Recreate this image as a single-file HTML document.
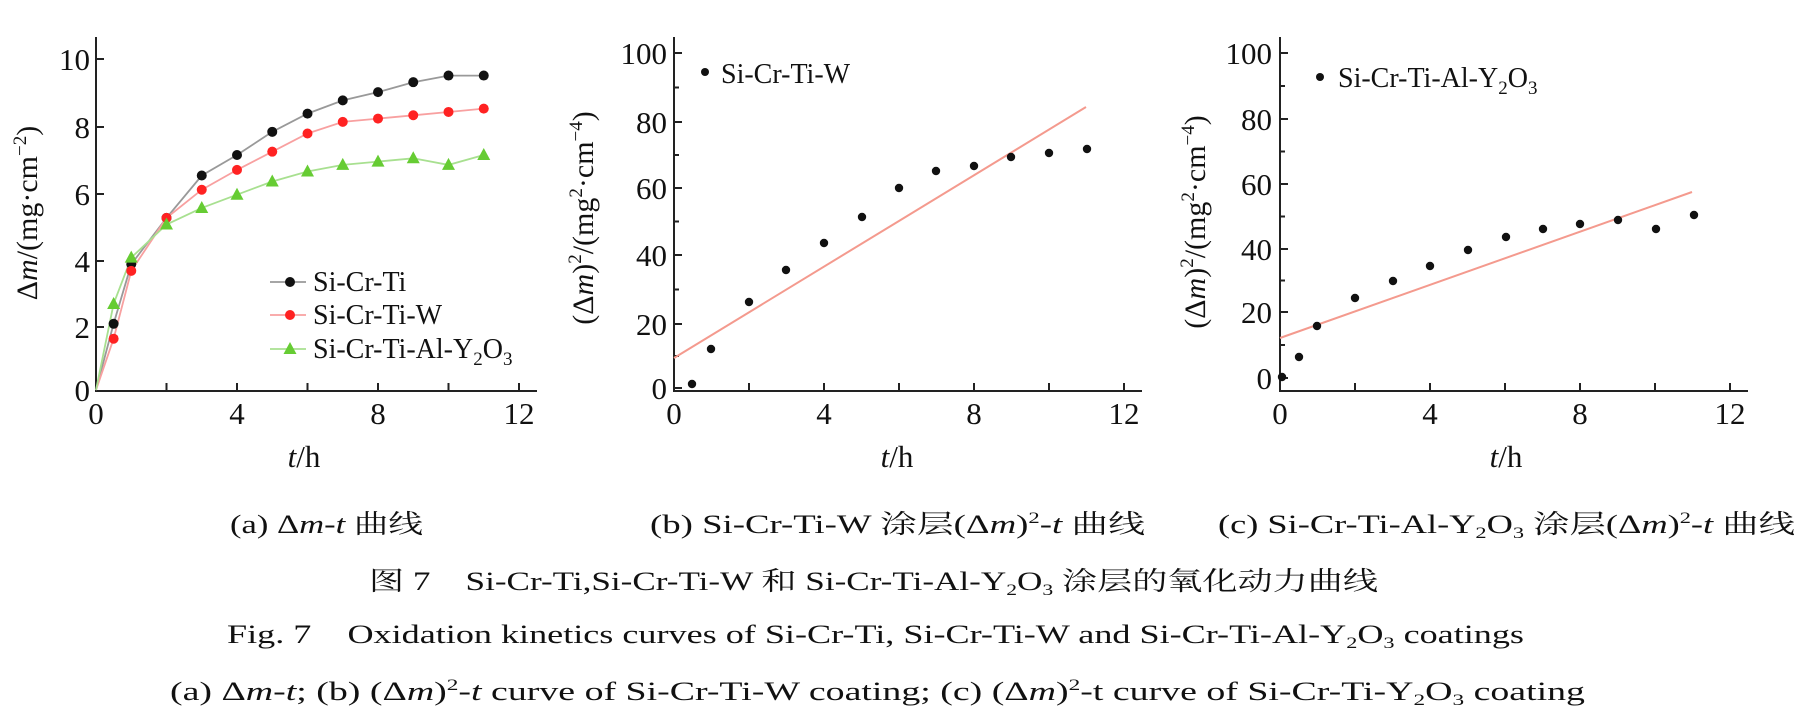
<!DOCTYPE html>
<html><head><meta charset="utf-8"><style>
html,body{margin:0;padding:0;background:#fff;}
svg{display:block;}
text{font-family:"Liberation Serif","Noto Serif CJK SC","Noto Sans CJK SC",serif;fill:#111;}
</style></head><body>
<svg id="s" width="1814" height="716" viewBox="0 0 1814 716" xmlns="http://www.w3.org/2000/svg">
<g id="g"></g>
<g font-size="31" text-anchor="end">
<text x="90" y="70">10</text><text x="90" y="138">8</text><text x="90" y="205">6</text><text x="90" y="272">4</text><text x="90" y="338">2</text><text x="90" y="401">0</text>
</g>
<g font-size="31" text-anchor="middle">
<text x="96" y="424">0</text><text x="237" y="424">4</text><text x="378" y="424">8</text><text x="519" y="424">12</text>
<text x="674" y="424">0</text><text x="824" y="424">4</text><text x="974" y="424">8</text><text x="1124" y="424">12</text>
<text x="1280" y="424">0</text><text x="1430" y="424">4</text><text x="1580" y="424">8</text><text x="1730" y="424">12</text>
</g>
<text x="304" y="467" font-size="31" text-anchor="middle"><tspan font-style="italic">t</tspan>/h</text>
<text x="897" y="467" font-size="31" text-anchor="middle"><tspan font-style="italic">t</tspan>/h</text>
<text x="1506" y="467" font-size="31" text-anchor="middle"><tspan font-style="italic">t</tspan>/h</text>
<text transform="translate(37,213) rotate(-90)" font-size="30" text-anchor="middle">Δ<tspan font-style="italic">m</tspan>/(mg·cm<tspan font-size="19" dy="-11">−2</tspan><tspan dy="11">)</tspan></text>
<text transform="translate(593,218) rotate(-90)" font-size="30" text-anchor="middle">(Δ<tspan font-style="italic">m</tspan>)<tspan font-size="19" dy="-12">2</tspan><tspan dy="12">/(mg</tspan><tspan font-size="19" dy="-11">2</tspan><tspan dy="11">·cm</tspan><tspan font-size="19" dy="-11">−4</tspan><tspan dy="11">)</tspan></text>
<text transform="translate(1205,222) rotate(-90)" font-size="30" text-anchor="middle">(Δ<tspan font-style="italic">m</tspan>)<tspan font-size="19" dy="-12">2</tspan><tspan dy="12">/(mg</tspan><tspan font-size="19" dy="-11">2</tspan><tspan dy="11">·cm</tspan><tspan font-size="19" dy="-11">−4</tspan><tspan dy="11">)</tspan></text>
<g font-size="31" text-anchor="end">
<text x="667" y="64">100</text><text x="667" y="133">80</text><text x="667" y="199">60</text><text x="667" y="266">40</text><text x="667" y="335">20</text><text x="667" y="399">0</text>
<text x="1272" y="64">100</text><text x="1272" y="130">80</text><text x="1272" y="195">60</text><text x="1272" y="260">40</text><text x="1272" y="323">20</text><text x="1272" y="389">0</text>
</g>
<g font-size="28">
<text x="313" y="291">Si-Cr-Ti</text>
<text x="313" y="324">Si-Cr-Ti-W</text>
<text x="313" y="358">Si-Cr-Ti-Al-Y<tspan font-size="19" dy="7">2</tspan><tspan dy="-7">O</tspan><tspan font-size="19" dy="7">3</tspan></text>
<text x="721" y="83">Si-Cr-Ti-W</text>
<text x="1338" y="87">Si-Cr-Ti-Al-Y<tspan font-size="19" dy="7">2</tspan><tspan dy="-7">O</tspan><tspan font-size="19" dy="7">3</tspan></text>
</g>
<g font-size="26">
<text x="230" y="533" textLength="193" lengthAdjust="spacingAndGlyphs">(a) Δ<tspan font-style="italic">m</tspan>-<tspan font-style="italic">t</tspan> 曲线</text>
<text x="650" y="533" textLength="495" lengthAdjust="spacingAndGlyphs">(b) Si-Cr-Ti-W 涂层(Δ<tspan font-style="italic">m</tspan>)<tspan font-size="16" dy="-10">2</tspan><tspan dy="10">-</tspan><tspan font-style="italic">t</tspan> 曲线</text>
<text x="1218" y="533" textLength="577" lengthAdjust="spacingAndGlyphs">(c) Si-Cr-Ti-Al-Y<tspan font-size="16" dy="5">2</tspan><tspan dy="-5">O</tspan><tspan font-size="16" dy="5">3</tspan><tspan dy="-5"> 涂层(Δ</tspan><tspan font-style="italic">m</tspan>)<tspan font-size="16" dy="-10">2</tspan><tspan dy="10">-</tspan><tspan font-style="italic">t</tspan> 曲线</text>
<text x="369" y="590" textLength="1009" lengthAdjust="spacingAndGlyphs">图 7　Si-Cr-Ti,Si-Cr-Ti-W 和 Si-Cr-Ti-Al-Y<tspan font-size="16" dy="5">2</tspan><tspan dy="-5">O</tspan><tspan font-size="16" dy="5">3</tspan><tspan dy="-5"> 涂层的氧化动力曲线</tspan></text>
<text x="227" y="643" textLength="1297" lengthAdjust="spacingAndGlyphs">Fig. 7　Oxidation kinetics curves of Si-Cr-Ti, Si-Cr-Ti-W and Si-Cr-Ti-Al-Y<tspan font-size="16" dy="5">2</tspan><tspan dy="-5">O</tspan><tspan font-size="16" dy="5">3</tspan><tspan dy="-5"> coatings</tspan></text>
<text x="170" y="700" textLength="1415" lengthAdjust="spacingAndGlyphs">(a) Δ<tspan font-style="italic">m</tspan>-<tspan font-style="italic">t</tspan>; (b) (Δ<tspan font-style="italic">m</tspan>)<tspan font-size="16" dy="-10">2</tspan><tspan dy="10">-</tspan><tspan font-style="italic">t</tspan> curve of Si-Cr-Ti-W coating; (c) (Δ<tspan font-style="italic">m</tspan>)<tspan font-size="16" dy="-10">2</tspan><tspan dy="10">-t curve of Si-Cr-Ti-Y</tspan><tspan font-size="16" dy="5">2</tspan><tspan dy="-5">O</tspan><tspan font-size="16" dy="5">3</tspan><tspan dy="-5"> coating</tspan></text>
</g>
</svg>
<script>
var g=document.getElementById('g'),h='';
function L(x1,y1,x2,y2,c,w){h+='<line x1="'+x1+'" y1="'+y1+'" x2="'+x2+'" y2="'+y2+'" stroke="'+(c||'#222')+'" stroke-width="'+(w||2)+'"/>';}
function axes(x0,xend,ytop,yticks,xs){
 L(x0,ytop,x0,391);L(x0-1,391,xend,391);
 yticks.forEach(function(t){L(x0,t[0],x0+(t[1]?8:5),t[0]);});
 xs.forEach(function(x){L(x,391,x,383);});
}
var ay=[];[59,127,194,261,327].forEach(function(y,i){ay.push([y,1]);});
axes(96,537,37,ay,[166.5,237,307.5,378,448.5,519]);
var by=[],bt=[53,122,188,255,324,388];bt.forEach(function(y,i){by.push([y,1]);if(i<5)by.push([(y+bt[i+1])/2,0]);});
axes(674,1142,37,by,[749,824,899,974,1049,1124]);
var cy=[],ct=[53,119,184,249,312,378];ct.forEach(function(y,i){cy.push([y,1]);if(i<5)cy.push([(y+ct[i+1])/2,0]);});
axes(1280,1748,37,cy,[1355,1430,1505,1580,1655,1730]);
function ax(t){return 96+t*35.25;} function ayv(v){return 390-v*33.1;}
var T=[0,0.5,1,2,3,4,5,6,7,8,9,10,11];
var S=[[0,2.0,3.8,5.2,6.48,7.1,7.8,8.35,8.75,9.0,9.3,9.5,9.5],[0,1.55,3.6,5.2,6.05,6.65,7.2,7.75,8.1,8.2,8.3,8.4,8.5],[0,2.6,4.0,5.0,5.5,5.9,6.3,6.6,6.8,6.9,7.0,6.8,7.1]];
var LC=['#999','#f8a0a0','#a8e090'],MC=['#111','#f22','#6c3'];
S.forEach(function(s,k){var p=T.map(function(t,i){return ax(t).toFixed(1)+','+ayv(s[i]).toFixed(1);}).join(' ');
 h+='<polyline points="'+p+'" fill="none" stroke="'+LC[k]+'" stroke-width="1.8"/>';});
S.forEach(function(s,k){T.forEach(function(t,i){if(i==0)return;var x=ax(t),y=ayv(s[i]);
 if(k==2)h+='<polygon points="'+x+','+(y-7)+' '+(x-6.5)+','+(y+5)+' '+(x+6.5)+','+(y+5)+'" fill="'+MC[k]+'"/>';
 else h+='<circle cx="'+x+'" cy="'+y+'" r="5" fill="'+MC[k]+'"/>';});});
L(270,282,306,282,LC[0],1.8);h+='<circle cx="290" cy="282" r="5" fill="#111"/>';
L(270,315,306,315,LC[1],1.8);h+='<circle cx="290" cy="315" r="5" fill="#f22"/>';
L(270,349,306,349,LC[2],1.8);h+='<polygon points="290,342 283.5,354 296.5,354" fill="#6c3"/>';
L(674,358,1086,107,'#f49a8e',2);
[[692,384],[711,349],[749,302],[786,270],[824,243],[862,217],[899,188],[936,171],[974,166],[1011,157],[1049,153],[1087,149]].forEach(function(p){h+='<circle cx="'+p[0]+'" cy="'+p[1]+'" r="4.2" fill="#111"/>';});
h+='<circle cx="705" cy="72" r="4" fill="#111"/>';
L(1280,338,1692,192,'#f49a8e',2);
[[1282,377],[1299,357],[1317,326],[1355,298],[1393,281],[1430,266],[1468,250],[1506,237],[1543,229],[1580,224],[1618,220],[1656,229],[1694,215]].forEach(function(p){h+='<circle cx="'+p[0]+'" cy="'+p[1]+'" r="4.2" fill="#111"/>';});
h+='<circle cx="1320" cy="77" r="4" fill="#111"/>';
g.innerHTML=h;
</script>
</body></html>
